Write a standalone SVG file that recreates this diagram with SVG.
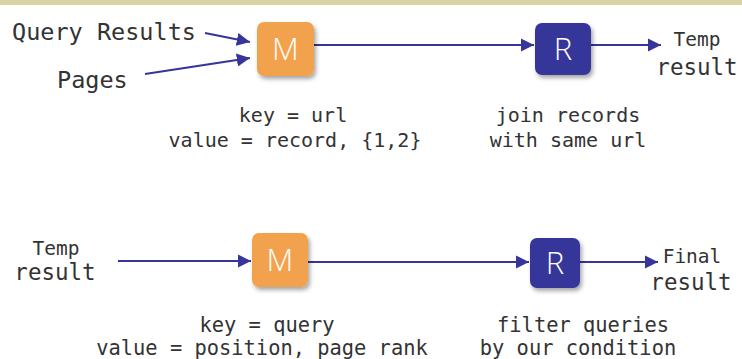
<svg xmlns="http://www.w3.org/2000/svg" width="742" height="359" viewBox="0 0 742 359">
<defs>
<marker id="ah" viewBox="0 0 10 10" refX="10" refY="5" markerWidth="6" markerHeight="6" orient="auto" markerUnits="strokeWidth">
<path d="M0,0 L10,5 L0,10 z" fill="#35359a"/>
</marker>
<filter id="sh" x="-20%" y="-20%" width="150%" height="150%">
<feDropShadow dx="2" dy="3" stdDeviation="2" flood-color="#000" flood-opacity="0.35"/>
</filter>
</defs>
<style>
.t{font-family:"DejaVu Sans Mono","Liberation Mono",monospace;fill:#333}
.c{text-anchor:middle}
.m{fill:#f2a24e}
.r{fill:#36369a}
.l{font-family:"Open Sans","Liberation Sans",sans-serif;font-weight:300;font-size:31px;fill:#fff;text-anchor:middle}
.e{stroke:#35359a;stroke-width:2.2;fill:none;marker-end:url(#ah)}
</style>
<rect x="0" y="0" width="742" height="359" fill="#fff"/>
<rect x="0" y="0" width="742" height="5" fill="#d9d3a3"/>
<g id="edges">
<line class="e" x1="205" y1="33" x2="250" y2="42"/>
<line class="e" x1="145" y1="74" x2="250" y2="58"/>
<line class="e" x1="314" y1="45" x2="534" y2="45"/>
<line class="e" x1="591" y1="45" x2="661" y2="45"/>
<line class="e" x1="118" y1="261" x2="251" y2="261"/>
<line class="e" x1="308" y1="262" x2="529" y2="262"/>
<line class="e" x1="580" y1="262" x2="658" y2="262"/>
</g>
<g id="queryResults"><text class="t" x="12" y="40" font-size="23.5">Query Results</text></g>
<g id="pages"><text class="t" x="57" y="88" font-size="23.5">Pages</text></g>
<g id="m1">
<rect class="m" x="257" y="22" width="57" height="54" rx="7" filter="url(#sh)"/>
<text class="l" x="285.5" y="60">M</text>
</g>
<g id="r1">
<rect class="r" x="535" y="23" width="56" height="52" rx="7" filter="url(#sh)"/>
<text class="l" x="563" y="60">R</text>
</g>
<g id="temp1">
<text class="t c" x="697" y="46" font-size="19.5">Temp</text>
<text class="t c" x="697" y="75" font-size="22.5">result</text>
</g>
<g id="m1label">
<text class="t c" x="293" y="122" font-size="20">key = url</text>
<text class="t c" x="295" y="147" font-size="20">value = record, {1,2}</text>
</g>
<g id="r1label">
<text class="t c" x="568" y="122" font-size="20">join records</text>
<text class="t c" x="568" y="147" font-size="20">with same url</text>
</g>
<g id="temp2">
<text class="t c" x="56" y="255" font-size="19.5">Temp</text>
<text class="t c" x="55" y="280" font-size="22.5">result</text>
</g>
<g id="m2">
<rect class="m" x="252" y="233" width="56" height="54" rx="7" filter="url(#sh)"/>
<text class="l" x="280" y="271">M</text>
</g>
<g id="r2">
<rect class="r" x="530" y="238" width="50" height="50" rx="7" filter="url(#sh)"/>
<text class="l" x="555" y="274">R</text>
</g>
<g id="final">
<text class="t c" x="692" y="263" font-size="19.5">Final</text>
<text class="t c" x="691" y="290" font-size="22.5">result</text>
</g>
<g id="m2label">
<text class="t c" x="267" y="332" font-size="20.4">key = query</text>
<text class="t c" x="262" y="355" font-size="20.4">value = position, page rank</text>
</g>
<g id="r2label">
<text class="t c" x="583" y="332" font-size="20.4">filter queries</text>
<text class="t c" x="578" y="355" font-size="20.4">by our condition</text>
</g>
</svg>
